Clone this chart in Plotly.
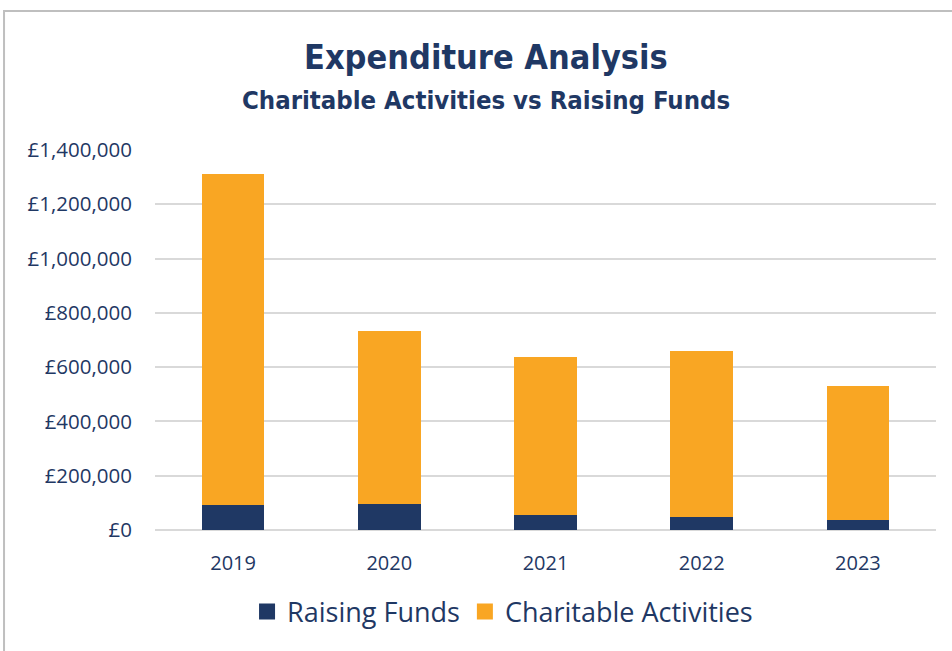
import plotly.graph_objects as go

years = ["2019", "2020", "2021", "2022", "2023"]
raising_funds = [92000, 97000, 55000, 47000, 36000]
charitable_totals = [1312000, 733000, 636000, 661000, 531000]
charitable_activities = [t - r for t, r in zip(charitable_totals, raising_funds)]
y_ticks = [0, 200000, 400000, 600000, 800000, 1000000, 1200000, 1400000]
y_tick_labels = ["£0", "£200,000", "£400,000", "£600,000", "£800,000",
                 "£1,000,000", "£1,200,000", "£1,400,000"]
series_names = ["Raising Funds", "Charitable Activities"]

NAVY = "#1f3864"
ORANGE = "#f9a623"
TXT = "#1f3864"
TICKFONT = "Open Sans, Noto Sans, sans-serif"
TITLEFONT = "Liberation Sans Narrow, DejaVu Sans Condensed, Arial Narrow, sans-serif"

fig = go.Figure()
fig.add_trace(go.Bar(x=years, y=raising_funds, name=series_names[0], showlegend=False,
                     marker=dict(color=NAVY, line=dict(width=0))))
fig.add_trace(go.Bar(x=years, y=charitable_activities, name=series_names[1], showlegend=False,
                     marker=dict(color=ORANGE, line=dict(width=0))))
# legend entries with larger square swatches
for nm, col in zip(series_names, [NAVY, ORANGE]):
    fig.add_trace(go.Scatter(x=[None], y=[None], mode="markers", name=nm,
                             marker=dict(symbol="square", size=16, color=col)))

fig.update_layout(
    width=952, height=651,
    barmode="stack", bargap=0.6,
    paper_bgcolor="white", plot_bgcolor="white",
    margin=dict(l=155, r=16, t=150, b=121),
    showlegend=True,
    legend=dict(orientation="h", x=0.445, y=-0.2158, xanchor="center", yanchor="middle",
                font=dict(family=TICKFONT, size=27, color=TXT), traceorder="normal",
                itemwidth=30),
    annotations=[
        dict(text="<b>Expenditure Analysis</b>", xref="paper", yref="paper",
             x=0.4238, y=1.2447, xanchor="center", yanchor="middle", showarrow=False,
             font=dict(family=TITLEFONT, size=34, color=TXT)),
        dict(text="<b>Charitable Activities vs Raising Funds</b>", xref="paper", yref="paper",
             x=0.4238, y=1.1316, xanchor="center", yanchor="middle", showarrow=False,
             font=dict(family=TITLEFONT, size=25.5, color=TXT)),
    ],
    shapes=[
        dict(type="rect", xref="paper", yref="paper", x0=-0.1933, y0=-0.5, x1=1.2, y1=1.3658,
             line=dict(color="#bfbfbf", width=2), fillcolor="rgba(0,0,0,0)", layer="below"),
    ],
)
fig.update_xaxes(showgrid=False, showline=False, zeroline=False, ticks="",
                 tickfont=dict(family=TICKFONT, size=20, color=TXT), ticklabelstandoff=19)
fig.update_yaxes(range=[0, 1400000], tickvals=y_ticks, ticktext=y_tick_labels,
                 showgrid=True, gridcolor="#d9d9d9", gridwidth=2, zeroline=True,
                 zerolinecolor="#d9d9d9", zerolinewidth=2, showline=False, ticks="",
                 tickfont=dict(family=TICKFONT, size=20.5, color=TXT), ticklabelstandoff=22)

fig.write_html("out.html", config={"displayModeBar": False},
               post_script="document.body.style.margin='0';")
